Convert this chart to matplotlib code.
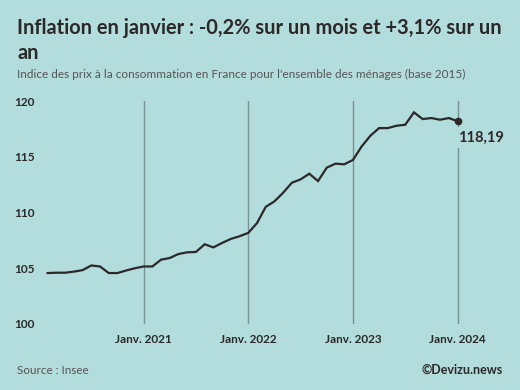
import numpy as np
import pandas as pd
import matplotlib
matplotlib.use("Agg")
import matplotlib.pyplot as plt

# Indice des prix a la consommation, fevrier 2020 -> janvier 2024 (base 2015)
months = pd.date_range("2020-02-01", "2024-01-01", freq="MS")
ipc = [104.57, 104.6, 104.6, 104.7, 104.83, 105.25, 105.16, 104.57, 104.57, 104.8, 105.0,
       105.16, 105.16, 105.77, 105.92, 106.28, 106.43, 106.46, 107.15, 106.87, 107.27, 107.63,
       107.87, 108.17, 109.05, 110.5, 111.0, 111.77, 112.67, 112.97, 113.48, 112.82, 114.02,
       114.38, 114.32, 114.71, 115.92, 116.88, 117.57, 117.57, 117.78, 117.87, 118.98, 118.38,
       118.47, 118.32, 118.47, 118.19]
jan_labels = ["Janv. 2021", "Janv. 2022", "Janv. 2023", "Janv. 2024"]
y_ticks = [100, 105, 110, 115, 120]

bg = "#b3dcdc"
dark = "#2b2828"
plt.rcParams["font.family"] = ["Lato", "DejaVu Sans"]

fig = plt.figure(figsize=(5.2, 3.9), dpi=100, facecolor=bg)
ax = fig.add_axes([40 / 520, 66 / 390, 440 / 520, 223 / 390], facecolor=bg)

x = np.arange(len(ipc))
jan_idx = [i for i, d in enumerate(months) if d.month == 1]

for j in jan_idx:
    ax.axvline(j, color="#7d9393", lw=1, zorder=1)

ax.plot(x, ipc, color=dark, lw=1.6, zorder=3, solid_joinstyle="miter")
ax.plot(x[-1], ipc[-1], "o", color=dark, ms=4.5, zorder=4)
ax.annotate(f"{ipc[-1]:.2f}".replace(".", ","), (x[-1], ipc[-1]), xytext=(0, -12),
            textcoords="offset points", ha="left", va="center", fontsize=10.5,
            fontweight="bold", color=dark, zorder=5,
            bbox=dict(boxstyle="square,pad=0.25", fc=bg, ec="none"))

ax.set_xlim((40 - 47.7) / 8.72, (480 - 47.7) / 8.72)
ax.set_ylim(100, 120)
ax.set_xticks(jan_idx)
ax.set_xticklabels(jan_labels)
ax.set_yticks(y_ticks)
ax.tick_params(length=0, labelsize=8.5, labelcolor=dark)
ax.tick_params(axis="x", pad=7)
ax.tick_params(axis="y", pad=4)
for lab in ax.get_xticklabels() + ax.get_yticklabels():
    lab.set_fontweight("bold")
for s in ax.spines.values():
    s.set_visible(False)

fig.text(17 / 520, 1 - 28 / 390, "Inflation en janvier : -0,2% sur un mois et +3,1% sur un",
         fontsize=14.4, fontweight="bold", color=dark, va="center", ha="left")
fig.text(17 / 520, 1 - 53 / 390, "an", fontsize=14.4, fontweight="bold", color=dark,
         va="center", ha="left")
fig.text(17 / 520, 1 - 74 / 390,
         "Indice des prix à la consommation en France pour l'ensemble des ménages (base 2015)",
         fontsize=8.5, color="#555555", va="center", ha="left")
fig.text(17 / 520, 1 - 370 / 390, "Source : Insee", fontsize=8.4, color="#555555",
         va="center", ha="left")
fig.text(503 / 520, 1 - 370 / 390, "©Devizu.news", fontsize=9, fontweight="bold",
         color=dark, va="center", ha="right")

fig.savefig("out.png", dpi=100, facecolor=bg)
